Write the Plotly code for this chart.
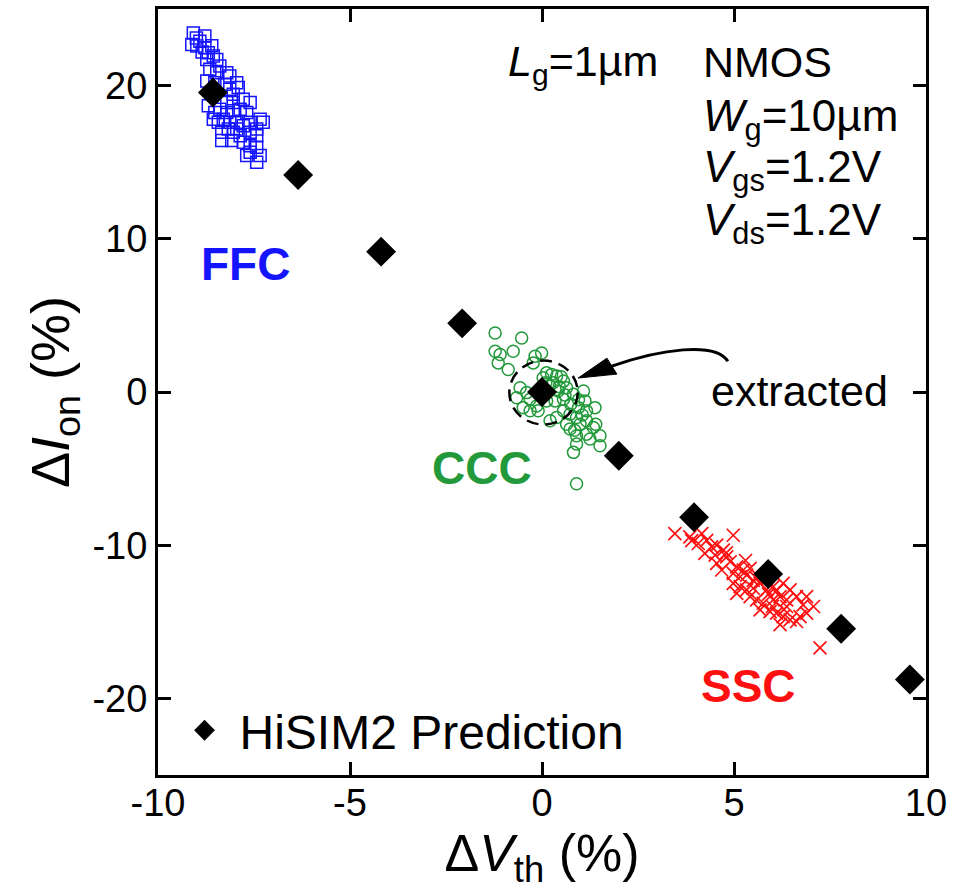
import plotly.graph_objects as go

# HiSIM2 prediction points (dVth %, dIon %)
hisim_dvth = [-8.57, -6.35, -4.19, -2.08, 0.0, 2.0, 3.96, 5.89, 7.79, 9.58]
hisim_dion = [19.55, 14.16, 9.16, 4.48, 0.0, -4.16, -8.18, -11.88, -15.45, -18.77]

# FFC corner measurements
ffc_dvth = [-9.08, -8.78, -9.12, -8.91, -8.99, -8.78, -8.69, -8.56, -8.47, -8.73,
            -8.39, -8.65, -8.47, -8.21, -8.13, -8.73, -8.52, -7.95, -8.26, -8.13,
            -7.91, -8.04, -7.78, -7.60, -8.21, -8.04, -8.69, -8.52, -8.39, -8.21,
            -8.04, -7.86, -7.69, -7.34, -7.26, -8.30, -8.13, -7.95, -7.78, -7.60,
            -7.43, -8.34, -8.04, -7.86, -7.60, -7.43, -8.34, -8.08, -7.78, -7.60,
            -7.43, -7.60, -7.69, -7.43, -7.34, -7.95, -8.17, -8.43, -8.56, -9.00,
            -8.85, -8.60]
ffc_dion = [23.44, 23.23, 22.68, 22.90, 22.58, 22.47, 22.14, 21.93, 21.71, 21.71,
            21.28, 21.06, 20.84, 20.84, 20.63, 20.30, 20.19, 20.19, 20.08, 19.76,
            19.87, 19.44, 19.11, 18.90, 18.90, 18.90, 18.68, 18.25, 18.46, 18.25,
            18.36, 18.46, 18.25, 17.81, 17.60, 17.81, 17.60, 17.60, 17.38, 17.60,
            17.16, 16.95, 16.95, 16.73, 16.95, 16.73, 16.41, 16.41, 16.30, 16.08,
            15.97, 15.65, 15.43, 15.00, 15.43, 17.16, 17.16, 17.60, 17.81, 23.10,
            22.20, 22.60]

# CCC corner measurements
ccc_dvth = [-1.22, -0.53, -1.22, -1.09, -0.75, -1.14, -0.88, -0.18, -0.01, -0.23,
            0.12, 0.25, 0.38, 0.03, 0.29, 0.56, 0.42, 0.64, -0.57, -0.40,
            -0.66, -0.31, -0.49, -0.14, 0.12, 0.34, 0.56, 0.82, 1.08, 1.12,
            0.95, 1.16, 1.38, 0.73, 0.90, 0.99, 1.16, 1.34, 1.51, 1.16,
            0.90, 0.82, 1.51, 0.38, 0.64, 0.73, 0.90, 1.25, 0.21, 0.56,
            0.90, -0.10, -0.31, 0.20, 0.45, 0.60, 0.75, 0.95, 1.05, 0.85,
            1.40, 0.50, 0.10]
ccc_dion = [3.85, 3.53, 2.66, 2.45, 2.66, 1.90, 1.47, 2.34, 2.55, 1.90,
            1.25, 1.15, 1.04, 0.93, 0.61, 0.71, 0.06, 0.28, 0.28, -0.04,
            -0.37, -0.47, -1.02, -0.91, -0.58, -0.58, -0.47, -0.15, 0.06, -0.58,
            -1.02, -1.23, -1.02, -1.45, -1.66, -2.10, -1.88, -2.32, -2.86, -2.75,
            -2.86, -3.94, -3.51, -1.66, -2.10, -2.42, -3.40, -3.07, -1.88, -1.23,
            -5.99, -1.23, -1.23, 0.40, 0.35, -0.20, -0.80, -0.50, -1.50, -2.50,
            -2.10, 1.00, 0.60]

# SSC corner measurements
ssc_dvth = [3.46, 3.85, 4.16, 4.98, 4.07, 4.29, 4.42, 4.55, 4.72, 4.24,
            4.51, 4.81, 4.55, 4.90, 5.07, 5.24, 5.42, 4.68, 4.98, 5.16,
            5.33, 5.59, 4.98, 5.16, 5.33, 5.07, 5.50, 5.68, 5.85, 6.02,
            6.28, 6.46, 5.42, 5.59, 5.76, 6.02, 6.20, 6.37, 6.63, 6.89,
            6.80, 7.07, 5.68, 5.94, 6.11, 6.28, 6.46, 6.72, 6.89, 6.20,
            6.63, 6.37, 7.24, 5.90, 6.10, 5.50, 6.30, 6.00, 5.30, 4.80,
            3.90]
ssc_dion = [-9.24, -9.46, -9.24, -9.35, -9.89, -9.68, -10.11, -10.00, -10.32, -10.54,
            -10.65, -10.76, -11.19, -11.08, -11.41, -11.62, -11.51, -11.62, -11.84, -12.06,
            -11.95, -12.16, -12.49, -12.71, -12.92, -13.14, -12.81, -12.49, -12.92, -12.71,
            -12.49, -12.92, -13.36, -13.57, -13.79, -13.57, -13.36, -13.57, -13.36, -13.36,
            -13.90, -14.00, -14.22, -14.33, -14.44, -14.66, -14.87, -14.66, -14.44, -15.19,
            -14.98, -14.00, -16.70, -13.20, -13.00, -12.30, -14.20, -14.00, -11.00, -10.50,
            -9.70]

x_ticks = [-10, -5, 0, 5, 10]
x_labels = ["-10", "-5", "0", "5", "10"]
y_ticks = [-20, -10, 0, 10, 20]
y_labels = ["-20", "-10", "0", "10", "20"]

FONT = "Liberation Sans, Arial, sans-serif"
BLUE = "#1414FF"
GREEN = "#22993A"
RED = "#FF1010"

fig = go.Figure()

fig.add_trace(go.Scatter(
    x=ffc_dvth, y=ffc_dion, mode="markers", showlegend=False,
    marker=dict(symbol="square-open", size=12, color=BLUE, line=dict(width=1.5, color=BLUE)),
))
fig.add_trace(go.Scatter(
    x=ccc_dvth, y=ccc_dion, mode="markers", showlegend=False,
    marker=dict(symbol="circle-open", size=12, color=GREEN, line=dict(width=1.5, color=GREEN)),
))
fig.add_trace(go.Scatter(
    x=ssc_dvth, y=ssc_dion, mode="markers", showlegend=False,
    marker=dict(symbol="x-thin-open", size=13, color=RED, line=dict(width=1.7, color=RED)),
))
fig.add_trace(go.Scatter(
    x=hisim_dvth, y=hisim_dion, mode="markers", name="HiSIM2 Prediction",
    marker=dict(symbol="diamond", size=23, color="black"),
))

# dashed ring around the extracted point
fig.add_shape(type="circle", xref="x", yref="y", x0=-0.85, x1=0.93, y0=-2.12, y1=2.05,
              line=dict(color="black", width=2.5, dash="12px,7px"))
# curved pointer from the label to the ring
fig.add_shape(type="path", xref="x", yref="y",
              path="M 1.82,1.69 C 3.07,2.79 4.51,3.31 4.84,2.01",
              line=dict(color="black", width=3))
fig.add_shape(type="path", xref="x", yref="y",
              path="M 0.94,0.91 L 1.69,2.21 L 1.95,1.17 Z",
              fillcolor="black", line=dict(color="black", width=1))

def label(x, y, text, size=43, color="black", bold=False, xanchor="left"):
    if bold:
        text = "<b>" + text + "</b>"
    fig.add_annotation(x=x, y=y, xref="x", yref="y", text=text, showarrow=False,
                       xanchor=xanchor, yanchor="middle",
                       font=dict(family=FONT, size=size, color=color))

label(-7.73, 8.38, "FFC", size=46, color=BLUE, bold=True, xanchor="center")
label(-1.55, -4.94, "CCC", size=46, color=GREEN, bold=True, xanchor="center")
label(5.38, -19.2, "SSC", size=46, color=RED, bold=True, xanchor="center")
label(-0.95, 21.4, "<i>L</i><sub>g</sub>=1\u00b5m")
label(4.15, 21.56, "NMOS")
label(4.15, 17.8, "<i>W</i><sub>g</sub>=10\u00b5m", size=44)
label(4.15, 14.5, "<i>V</i><sub>gs</sub>=1.2V", size=44)
label(4.15, 11.0, "<i>V</i><sub>ds</sub>=1.2V", size=44)
label(4.36, 0.06, "extracted")

axis_common = dict(
    showline=True, linewidth=3, linecolor="black", mirror="ticks",
    ticks="inside", ticklen=13, tickwidth=3, tickcolor="black",
    showgrid=False, zeroline=False,
    tickfont=dict(family=FONT, size=38, color="black"),
)

fig.update_xaxes(range=[-10, 10], tickvals=x_ticks, ticktext=x_labels,
                 ticklabelstandoff=-8,
                 title=dict(text="\u0394<i>V</i><sub>th</sub> (%)",
                            font=dict(family=FONT, size=52, color="black"), standoff=0),
                 **axis_common)
fig.update_yaxes(range=[-25, 25], tickvals=y_ticks, ticktext=y_labels,
                 title=dict(text="\u0394<i>I</i><sub>on</sub> (%)",
                            font=dict(family=FONT, size=54, color="black"), standoff=6),
                 **axis_common)

fig.update_layout(
    width=965, height=893,
    margin=dict(l=158, r=39, t=6, b=118),
    paper_bgcolor="white", plot_bgcolor="white",
    showlegend=True,
    legend=dict(x=0.015, y=0.058, xanchor="left", yanchor="middle",
                bgcolor="rgba(0,0,0,0)", borderwidth=0, itemwidth=60,
                font=dict(family=FONT, size=48, color="black")),
)

fig.write_html("out.html")
